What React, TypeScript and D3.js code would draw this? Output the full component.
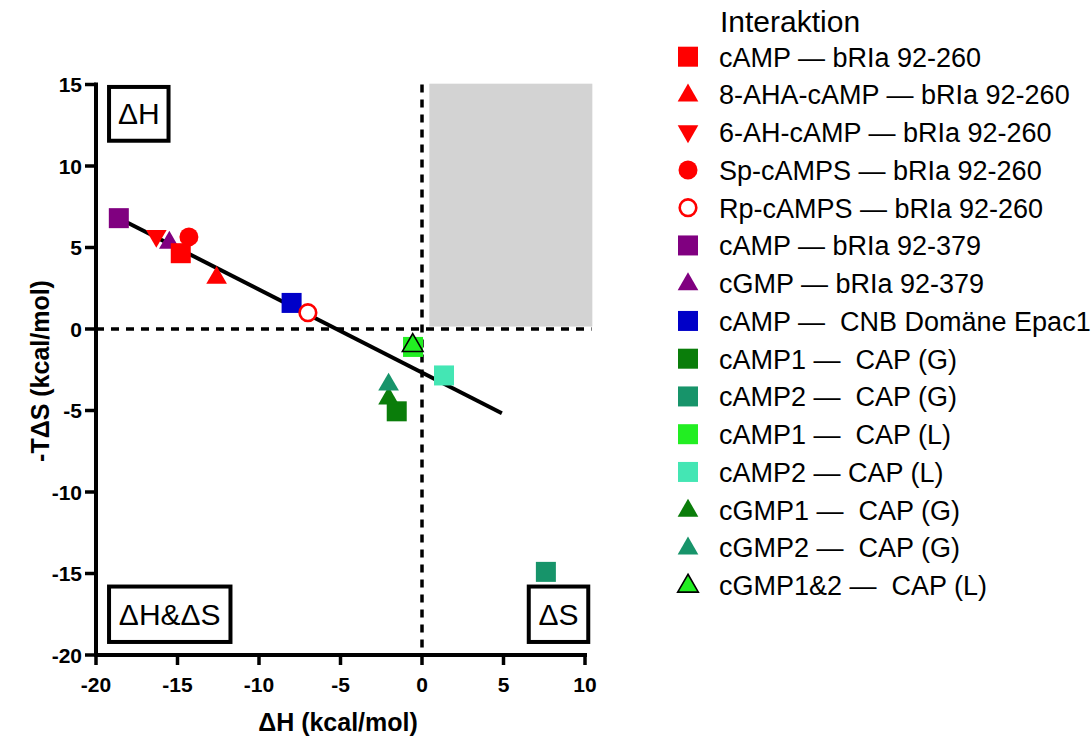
import React, { useEffect, useRef } from "react"
import * as d3 from "d3"

// legend labels, in legend order
const seriesLabels = [
  "cAMP — bRIa 92-260",
  "8-AHA-cAMP — bRIa 92-260",
  "6-AH-cAMP — bRIa 92-260",
  "Sp-cAMPS — bRIa 92-260",
  "Rp-cAMPS — bRIa 92-260",
  "cAMP — bRIa 92-379",
  "cGMP — bRIa 92-379",
  "cAMP —  CNB Domäne Epac1",
  "cAMP1 —  CAP (G)",
  "cAMP2 —  CAP (G)",
  "cAMP1 —  CAP (L)",
  "cAMP2 — CAP (L)",
  "cGMP1 —  CAP (G)",
  "cGMP2 —  CAP (G)",
  "cGMP1&2 —  CAP (L)",
]

// ΔH (kcal/mol)
const dH = [-14.8, -12.6, -16.3, -14.3, -7.0, -18.6, -15.5, -8.0, -1.55, 7.6, -0.55, 1.35, -2.05, -2.05, -0.57]
// -TΔS (kcal/mol)
const minusTdS = [4.65, 3.2, 5.65, 5.65, 1.0, 6.8, 5.35, 1.6, -5.05, -14.9, -1.1, -2.85, -4.2, -3.35, -0.95]

// regression line end points
const fitLine = [
  { x: -18.6, y: 6.8 },
  { x: 4.9, y: -5.17 },
]

const xTicks = [-20, -15, -10, -5, 0, 5, 10]
const yTicks = [15, 10, 5, 0, -5, -10, -15, -20]

// grey quadrant (ΔH > 0, -TΔS > 0)
const greyZone = { x0: 0.45, x1: 10.45, y0: 0.15, y1: 15.05 }

// quadrant labels, boxes in data units
const quadrantBoxes = [
  { label: "ΔH", x0: -19.2, x1: -15.55, y0: 11.55, y1: 14.85 },
  { label: "ΔH&ΔS", x0: -19.2, x1: -11.75, y0: -19.2, y1: -15.8 },
  { label: "ΔS", x0: 6.55, x1: 10.2, y0: -19.2, y1: -15.8 },
]

const shapes = ["square", "up", "down", "circle", "open", "square", "up", "square", "square", "square", "square", "square", "up", "up", "upOutline"]
const colors = ["#ff0000", "#ff0000", "#ff0000", "#ff0000", "#ff0000", "#800080", "#800080", "#0000c8", "#0a7d0a", "#17946a", "#22ee22", "#44e6b4", "#0a7d0a", "#17946a", "#22ee22"]
const drawOrder = [7, 5, 6, 2, 0, 1, 3, 4, 8, 9, 10, 11, 12, 13, 14]

const FONT = "'Liberation Sans', Arial, Helvetica, sans-serif"

function drawMarker(g, shape, color, cx, cy) {
  if (shape === "square") {
    g.append("rect").attr("x", cx - 10).attr("y", cy - 10).attr("width", 20).attr("height", 20).attr("fill", color)
  } else if (shape === "circle") {
    g.append("circle").attr("cx", cx).attr("cy", cy).attr("r", 9.5).attr("fill", color)
  } else if (shape === "open") {
    g.append("circle").attr("cx", cx).attr("cy", cy).attr("r", 8.3).attr("fill", "white").attr("stroke", color).attr("stroke-width", 2.6)
  } else {
    const sym = d3.symbol().type(d3.symbolTriangle).size(185)()
    const p = g.append("path")
      .attr("d", sym)
      .attr("fill", color)
      .attr("transform", "translate(" + cx + "," + (cy + (shape === "down" ? -1 : 1)) + ")" + (shape === "down" ? " rotate(180)" : ""))
    if (shape === "upOutline") p.attr("stroke", "#000").attr("stroke-width", 1.6)
  }
}

export default function App() {
  const ref = useRef(null)

  useEffect(() => {
    const svg = d3.select(ref.current)
    svg.selectAll("*").remove()

    const x = d3.scaleLinear().domain([-20, 10]).range([96, 585])
    const y = d3.scaleLinear().domain([-20, 15]).range([655, 84.5])

    // grey zone
    svg.append("rect")
      .attr("x", x(greyZone.x0))
      .attr("y", y(greyZone.y1))
      .attr("width", x(greyZone.x1) - x(greyZone.x0))
      .attr("height", y(greyZone.y0) - y(greyZone.y1))
      .attr("fill", "#d3d3d3")

    // dashed zero lines
    svg.append("line")
      .attr("x1", x(-20)).attr("x2", x(10.4)).attr("y1", y(0)).attr("y2", y(0))
      .attr("stroke", "#000").attr("stroke-width", 3.5).attr("stroke-dasharray", "8,7")
    svg.append("line")
      .attr("x1", x(0)).attr("x2", x(0)).attr("y1", y(15)).attr("y2", y(-20))
      .attr("stroke", "#000").attr("stroke-width", 3.5).attr("stroke-dasharray", "8,7")

    // quadrant boxes
    quadrantBoxes.forEach(b => {
      svg.append("rect")
        .attr("x", x(b.x0)).attr("y", y(b.y1))
        .attr("width", x(b.x1) - x(b.x0)).attr("height", y(b.y0) - y(b.y1))
        .attr("fill", "white").attr("stroke", "#000").attr("stroke-width", 4)
      svg.append("text")
        .attr("x", (x(b.x0) + x(b.x1)) / 2)
        .attr("y", (y(b.y0) + y(b.y1)) / 2 + 10.5)
        .attr("text-anchor", "middle")
        .attr("font-family", FONT)
        .attr("font-size", 30)
        .text(b.label)
    })

    // axes
    svg.append("line").attr("x1", x(-20)).attr("x2", x(10)).attr("y1", y(-20)).attr("y2", y(-20))
      .attr("stroke", "#000").attr("stroke-width", 4).attr("stroke-linecap", "square")
    svg.append("line").attr("x1", x(-20)).attr("x2", x(-20)).attr("y1", y(15)).attr("y2", y(-20))
      .attr("stroke", "#000").attr("stroke-width", 4).attr("stroke-linecap", "square")

    xTicks.forEach(t => {
      svg.append("line").attr("x1", x(t)).attr("x2", x(t)).attr("y1", y(-20)).attr("y2", y(-20) + 10)
        .attr("stroke", "#000").attr("stroke-width", 3.5)
      svg.append("text").attr("x", x(t)).attr("y", 692)
        .attr("text-anchor", "middle").attr("font-family", FONT).attr("font-weight", "bold").attr("font-size", 21)
        .text(t)
    })
    yTicks.forEach(t => {
      svg.append("line").attr("x1", x(-20) - 11).attr("x2", x(-20)).attr("y1", y(t)).attr("y2", y(t))
        .attr("stroke", "#000").attr("stroke-width", 3.5)
      svg.append("text").attr("x", 82).attr("y", y(t) + 7.5)
        .attr("text-anchor", "end").attr("font-family", FONT).attr("font-weight", "bold").attr("font-size", 21)
        .text(t)
    })

    svg.append("text").attr("x", 338).attr("y", 731)
      .attr("text-anchor", "middle").attr("font-family", FONT).attr("font-weight", "bold").attr("font-size", 25)
      .text("ΔH (kcal/mol)")
    svg.append("text").attr("transform", "translate(49,371) rotate(-90)")
      .attr("text-anchor", "middle").attr("font-family", FONT).attr("font-weight", "bold").attr("font-size", 25)
      .text("-TΔS (kcal/mol)")

    // regression line
    svg.append("path")
      .datum(fitLine)
      .attr("d", d3.line().x(d => x(d.x)).y(d => y(d.y)))
      .attr("stroke", "#000").attr("stroke-width", 4).attr("fill", "none")

    // points
    const pts = svg.append("g")
    drawOrder.forEach(i => drawMarker(pts, shapes[i], colors[i], x(dH[i]), y(minusTdS[i])))

    // legend
    const legend = svg.append("g")
    legend.append("text").attr("x", 720).attr("y", 32)
      .attr("font-family", FONT).attr("font-size", 30).text("Interaktion")
    seriesLabels.forEach((label, i) => {
      const cy = 56.7 + i * 37.75
      drawMarker(legend, shapes[i], colors[i], 688, cy)
      legend.append("text").attr("x", 719).attr("y", cy + 10)
        .attr("font-family", FONT).attr("font-size", 27)
        .style("white-space", "pre")
        .text(label)
    })
  }, [])

  return (
    <svg
      ref={ref}
      width={1092}
      height={738}
      style={{ position: "absolute", left: 0, top: 0, background: "white" }}
    />
  )
}
